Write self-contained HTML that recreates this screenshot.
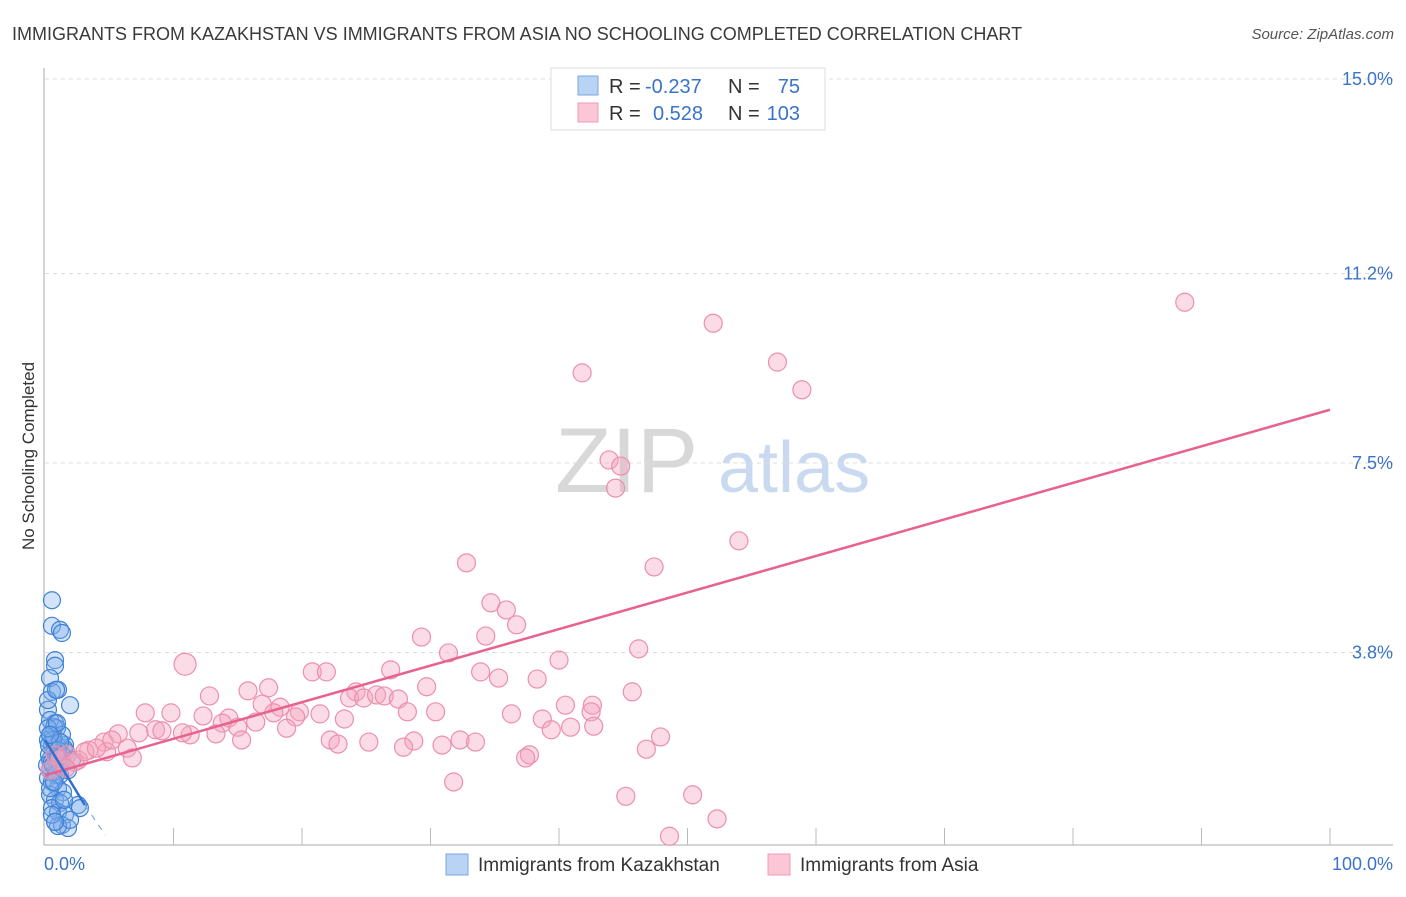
<!DOCTYPE html>
<html><head><meta charset="utf-8"><style>
body{margin:0;background:#fff;font-family:"Liberation Sans",sans-serif;}
svg text{font-family:"Liberation Sans",sans-serif;}
</style></head><body>
<svg id="chart" width="1406" height="892">
<text x="12" y="40" font-size="18" fill="#3a3a3a">IMMIGRANTS FROM KAZAKHSTAN VS IMMIGRANTS FROM ASIA NO SCHOOLING COMPLETED CORRELATION CHART</text>
<text x="1394" y="39" font-size="15" fill="#555" font-style="italic" text-anchor="end">Source: ZipAtlas.com</text>
<text transform="translate(34,456) rotate(-90)" font-size="17" fill="#333" text-anchor="middle">No Schooling Completed</text>
<g><text x="555" y="492" font-size="92" fill="#d8d8d8" font-family="Liberation Serif,serif">ZIP</text><text x="718" y="492" font-size="72" fill="#c9daf0">atlas</text></g>
<g id="grid"></g><g id="axes"></g><g id="pts"></g><g id="trends"></g>
<g>
<rect x="551" y="68" width="274" height="62" fill="#fff" stroke="#ddd"/>
<rect x="578" y="76" width="20" height="19" fill="#b9d3f5" stroke="#7aa6e0"/>
<rect x="578" y="103" width="20" height="19" fill="#fbc6d5" stroke="#f09ab4"/>
<text x="609" y="93" font-size="20" fill="#333">R =</text><text x="645" y="93" font-size="20" fill="#3a73c8">-0.237</text>
<text x="728" y="93" font-size="20" fill="#333">N =</text><text x="800" y="93" font-size="20" fill="#3a73c8" text-anchor="end">75</text>
<text x="609" y="120" font-size="20" fill="#333">R =</text><text x="653" y="120" font-size="20" fill="#3a73c8">0.528</text>
<text x="728" y="120" font-size="20" fill="#333">N =</text><text x="800" y="120" font-size="20" fill="#3a73c8" text-anchor="end">103</text>
</g>
<g>
<rect x="446" y="854" width="22" height="21" fill="#b9d3f5" stroke="#7aa6e0"/>
<text x="478" y="871" font-size="19" fill="#333">Immigrants from Kazakhstan</text>
<rect x="768" y="854" width="22" height="21" fill="#fbc6d5" stroke="#f09ab4"/>
<text x="800" y="871" font-size="19" fill="#333">Immigrants from Asia</text>
</g>
</svg>
<script>
const yTicks=[15.0,11.2,7.5,3.8];
const yTickLabels=["15.0%","11.2%","7.5%","3.8%"];
const xEndLabels=["0.0%","100.0%"];
const asiaX=[88.7,52.0,57.0,58.9,41.8,43.9,44.8,44.4,54.0,32.8,47.4,34.7,35.9,36.7,34.3,29.3,31.4,46.2,40.0,10.9,26.9,20.8,21.9,33.9,35.3,38.3,17.4,15.8,29.7,45.7,24.2,12.8,23.7,24.8,25.8,26.4,27.5,16.9,18.3,42.6,40.5,7.8,9.8,12.3,28.2,30.4,36.3,42.5,14.3,19.8,17.8,21.4,19.5,23.3,38.7,16.4,13.8,15.0,8.6,11.3,7.3,9.1,10.7,13.3,18.8,42.7,39.4,40.9,5.7,4.6,3.4,6.4,4.8,6.8,2.6,1.7,15.3,22.2,22.8,25.2,28.7,27.9,30.9,32.3,33.5,47.9,46.8,37.7,37.4,31.8,45.2,50.4,52.3,48.6,1.2,0.8,2.3,3.1,0.4,4.0,5.2,1.6];
const asiaY=[10.64,10.23,9.47,8.93,9.26,7.56,7.44,7.01,5.98,5.55,5.47,4.77,4.63,4.34,4.12,4.10,3.79,3.87,3.65,3.57,3.46,3.42,3.42,3.42,3.30,3.28,3.11,3.05,3.13,3.03,3.03,2.95,2.91,2.91,2.97,2.95,2.89,2.79,2.73,2.77,2.77,2.62,2.62,2.56,2.64,2.64,2.60,2.64,2.52,2.64,2.62,2.60,2.54,2.50,2.50,2.44,2.42,2.34,2.29,2.19,2.23,2.27,2.23,2.21,2.32,2.36,2.29,2.34,2.21,2.05,1.89,1.93,1.86,1.74,1.70,1.80,2.09,2.09,2.01,2.05,2.07,1.95,1.99,2.09,2.05,2.15,1.91,1.80,1.74,1.27,0.99,1.02,0.55,0.21,1.70,1.80,1.66,1.86,1.50,1.93,2.09,1.54];
const kazX=[0.54,0.54,1.17,1.32,0.78,0.78,0.39,0.54,1.01,1.95,0.23,0.78,0.93,0.39,1.17,1.56,0.54,0.78,1.01,1.32,0.39,0.62,0.86,1.17,0.23,0.54,1.01,1.40,0.39,0.78,1.17,2.57,2.72,0.54,1.01,1.56,0.78,1.32,1.79,1.01,1.95,0.23,0.62,1.63,2.10,0.31,0.93,1.48,0.39,0.78,0.16,1.17,1.79,0.39,0.70,1.32,0.23,0.86,0.62,1.01,0.31,0.54,0.86,1.17,0.39,0.70,1.48,0.23,0.93,0.54,1.32,0.62,0.39,1.01,0.78];
const kazY=[4.82,4.32,4.24,4.18,3.65,3.54,3.30,3.03,3.07,2.77,2.68,2.42,2.32,2.19,2.05,1.99,1.99,1.89,1.80,1.70,1.70,1.60,1.50,1.41,1.35,1.27,1.15,1.07,1.02,0.92,0.86,0.82,0.76,0.76,0.68,0.63,0.49,0.43,0.37,0.41,0.53,2.09,2.19,1.86,1.70,1.80,1.99,1.93,1.50,1.70,1.60,1.60,1.50,2.48,2.34,2.19,2.87,3.07,2.09,1.89,1.99,1.66,1.41,2.05,1.15,1.27,0.92,2.32,2.42,0.63,1.80,1.60,2.19,1.74,0.49];
const asiaTrendX=[0,100], asiaTrendY=[1.40,8.54];
const kazTrendX=[0,3.1], kazTrendY=[2.09,0.82];
const kazDashX=[3.1,4.7], kazDashY=[0.82,0.23];
const NS='http://www.w3.org/2000/svg';
const X0=45,X1=1330,Y0=847,YPX=51.2;
const sx=v=>X0+(X1-X0)*v/100, sy=v=>Y0-v*YPX;
function mk(tag,attrs,parent){const e=document.createElementNS(NS,tag);for(const k in attrs)e.setAttribute(k,attrs[k]);parent.appendChild(e);return e;}
const grid=document.getElementById('grid'),axes=document.getElementById('axes');
yTicks.forEach((t,i)=>{
  const l=mk('line',{x1:45,x2:1393,y1:sy(t),y2:sy(t),stroke:'#ddd','stroke-dasharray':'4,4'},grid);
  
  
  const tx=mk('text',{x:1393,y:sy(t)+6,'font-size':18,fill:'#3a73c8','text-anchor':'end'},axes);
  tx.textContent=yTickLabels[i];
  
  
});
mk('line',{x1:44,x2:44,y1:68,y2:845,stroke:'#aaa'},axes);
mk('line',{x1:44,x2:1393,y1:845,y2:845,stroke:'#aaa'},axes);
for(let i=1;i<=10;i++){const t=mk('line',{x1:sx(i*10),x2:sx(i*10),y1:828,y2:845,stroke:'#bbb'},axes);
  
  }
const xl0=mk('text',{x:44,y:870,'font-size':18,fill:'#3a73c8'},axes);xl0.textContent=xEndLabels[0];


const xl1=mk('text',{x:1393,y:870,'font-size':18,fill:'#3a73c8','text-anchor':'end'},axes);xl1.textContent=xEndLabels[1];


const pts=document.getElementById('pts');
kazX.forEach((x,i)=>{const c=mk('circle',{cx:sx(x),cy:sy(kazY[i]),r:8.5,fill:'rgba(130,175,235,0.35)',stroke:'#3f82d6','stroke-width':1.2},pts);
  
  });
asiaX.forEach((x,i)=>{const c=mk('circle',{cx:sx(x),cy:sy(asiaY[i]),r:i==19?11:9,fill:'rgba(244,165,190,0.4)',stroke:'#ec8fae','stroke-width':1.2},pts);
  
  });
const tr=document.getElementById('trends');
const a=mk('line',{x1:sx(asiaTrendX[0]),y1:sy(asiaTrendY[0]),x2:sx(asiaTrendX[1]),y2:sy(asiaTrendY[1]),stroke:'#e8628e','stroke-width':2.5},tr);


const k=mk('line',{x1:sx(kazTrendX[0]),y1:sy(kazTrendY[0]),x2:sx(kazTrendX[1]),y2:sy(kazTrendY[1]),stroke:'#2f6fd0','stroke-width':2.5},tr);


const kd=mk('line',{x1:sx(kazDashX[0]),y1:sy(kazDashY[0]),x2:sx(kazDashX[1]),y2:sy(kazDashY[1]),stroke:'#8aa8d8','stroke-width':1.2,'stroke-dasharray':'6,6'},tr);


</script>
</body></html>
